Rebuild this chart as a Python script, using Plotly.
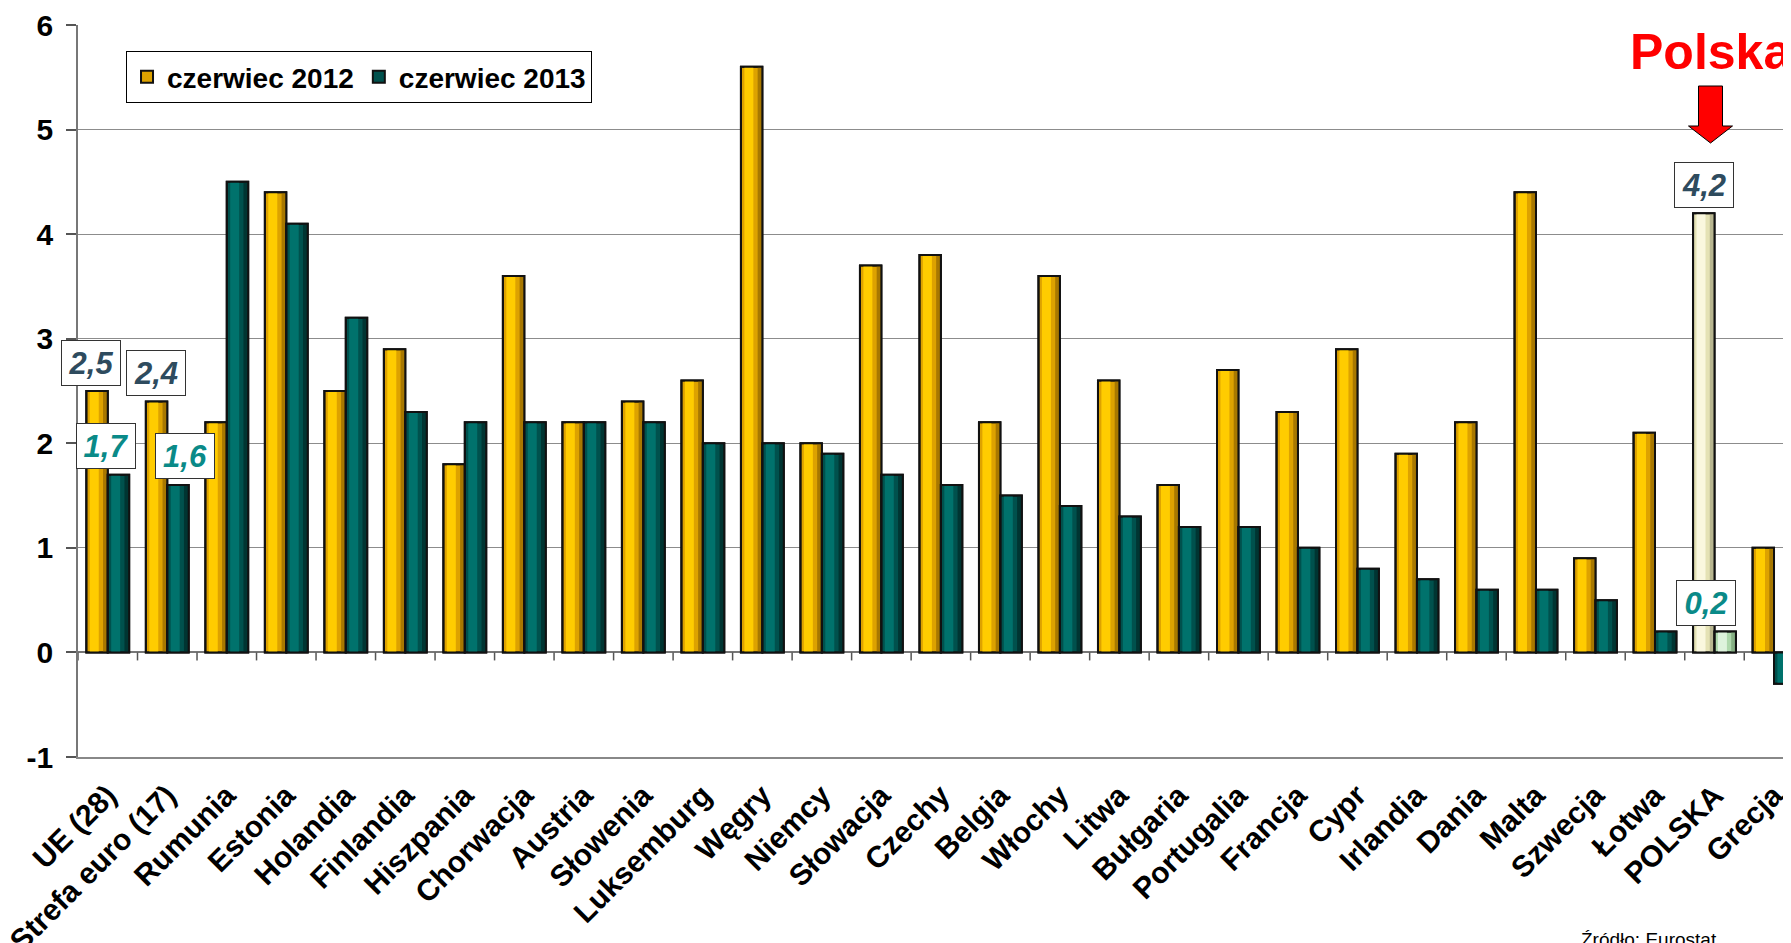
import plotly.graph_objects as go

categories = ["UE (28)", "Strefa euro (17)", "Rumunia", "Estonia", "Holandia", "Finlandia",
              "Hiszpania", "Chorwacja", "Austria", "Słowenia", "Luksemburg", "Węgry", "Niemcy",
              "Słowacja", "Czechy", "Belgia", "Włochy", "Litwa", "Bułgaria", "Portugalia",
              "Francja", "Cypr", "Irlandia", "Dania", "Malta", "Szwecja", "Łotwa", "POLSKA", "Grecja"]
june_2012 = [2.5, 2.4, 2.2, 4.4, 2.5, 2.9, 1.8, 3.6, 2.2, 2.4, 2.6, 5.6, 2.0, 3.7, 3.8, 2.2,
             3.6, 2.6, 1.6, 2.7, 2.3, 2.9, 1.9, 2.2, 4.4, 0.9, 2.1, 4.2, 1.0]
june_2013 = [1.7, 1.6, 4.5, 4.1, 3.2, 2.3, 2.2, 2.2, 2.2, 2.2, 2.0, 2.0, 1.9, 1.7, 1.6, 1.5,
             1.4, 1.3, 1.2, 1.2, 1.0, 0.8, 0.7, 0.6, 0.6, 0.5, 0.2, 0.2, -0.3]
series_names = ["czerwiec 2012", "czerwiec 2013"]
y_ticks = [-1, 0, 1, 2, 3, 4, 5, 6]
highlight = "POLSKA"
labelled = ["UE (28)", "Strefa euro (17)", "POLSKA"]
source_text = "Źródło: Eurostat"
callout_text = "Polska"

FONT = "Liberation Sans, Arial, sans-serif"
LABEL_DARK = "#2E4B5E"
LABEL_TEAL = "#0A8A88"

# (base, bright stripe, dark stripe) shading for normal and highlighted bars
gold_shades = ("#DDA200", "#FFCC00", "#A87800")
teal_shades = ("#00514D", "#00726C", "#003532")
gold_hl_shades = ("#E4E2B4", "#FAF8DE", "#B8B690")
teal_hl_shades = ("#AED8AC", "#DDF3DC", "#86B084")

BW = 0.36  # bar width in category units
x_idx = list(range(len(categories)))


def shade_list(k, normal, hl):
    return [hl[k] if c == highlight else normal[k] for c in categories]


fig = go.Figure()
series = [
    (june_2012, series_names[0], gold_shades, gold_hl_shades, -BW),
    (june_2013, series_names[1], teal_shades, teal_hl_shades, 0.0),
]
for vals, name, normal, hl, off in series:
    fig.add_trace(go.Bar(x=x_idx, y=vals, name=name, width=BW, offset=off,
                         marker=dict(color=shade_list(0, normal, hl),
                                     line=dict(color="#111111", width=2)),
                         legendgroup=name))
    fig.add_trace(go.Bar(x=x_idx, y=vals, width=BW * 0.42, offset=off + BW * 0.16,
                         marker=dict(color=shade_list(1, normal, hl), line=dict(width=0)),
                         showlegend=False, hoverinfo="skip", legendgroup=name))
    fig.add_trace(go.Bar(x=x_idx, y=vals, width=BW * 0.22, offset=off + BW * 0.78,
                         marker=dict(color=shade_list(2, normal, hl), line=dict(width=0)),
                         showlegend=False, hoverinfo="skip", legendgroup=name))
    fig.add_trace(go.Bar(x=x_idx, y=vals, width=BW, offset=off,
                         marker=dict(color="rgba(0,0,0,0)",
                                     line=dict(color="#111111", width=2)),
                         showlegend=False, hoverinfo="skip", legendgroup=name))

# tick marks on the zero line at category boundaries
shapes = []
for i in range(len(categories) + 1):
    shapes.append(dict(type="line", xref="x", yref="y", ysizemode="pixel", yanchor=0,
                       x0=i - 0.5, x1=i - 0.5, y0=0, y1=-8,
                       line=dict(color="#555555", width=1.5)))

pi = categories.index(highlight)
# red arrow pointing at Polska
shapes.append(dict(type="path", xref="x", yref="y", xsizemode="pixel", ysizemode="pixel",
                   xanchor=pi, yanchor=6,
                   path="M -16,-61 L 8,-61 L 8,-101 L 18,-101 L -4,-118 L -26,-101 L -16,-101 Z",
                   fillcolor="#FF0000", line=dict(color="#000000", width=1)))

annotations = []
dx12 = {"UE (28)": -17, "Strefa euro (17)": -11, "POLSKA": -11}
dx13 = {"UE (28)": -2, "Strefa euro (17)": 18, "POLSKA": -9}
for c in labelled:
    i = categories.index(c)
    for v, dx, col, ys in ((june_2012[i], dx12[c], LABEL_DARK, 5),
                           (june_2013[i], dx13[c], LABEL_TEAL, 6)):
        annotations.append(dict(x=i, y=v, xref="x", yref="y", xshift=dx, yshift=ys,
                                yanchor="bottom", showarrow=False,
                                text="<b><i>" + f"{v:.1f}".replace(".", ",") + "</i></b>",
                                font=dict(family=FONT, size=31, color=col),
                                bgcolor="white", bordercolor="#333333", borderwidth=1,
                                width=56, height=42, borderpad=1))

annotations.append(dict(x=pi, y=6, xref="x", yref="y", xshift=-4, yshift=-27,
                        showarrow=False, text="<b>" + callout_text + "</b>",
                        font=dict(family=FONT, size=50, color="#FF0000")))
annotations.append(dict(x=1, y=-0.232, xref="paper", yref="paper", xshift=-80,
                        xanchor="right", yanchor="top", showarrow=False, text=source_text,
                        font=dict(family=FONT, size=19, color="#000000")))

fig.update_layout(
    width=1791, height=943,
    margin=dict(l=70, r=0, t=17, b=194, autoexpand=False),
    paper_bgcolor="white", plot_bgcolor="white",
    barmode="overlay",
    font=dict(family=FONT, color="#000000"),
    showlegend=True,
    legend=dict(orientation="h", x=0.0279, y=0.9645, xanchor="left", yanchor="top",
                bgcolor="white", bordercolor="#000000", borderwidth=1,
                font=dict(family=FONT, size=28, color="#000000", weight="bold"),
                itemwidth=30, tracegroupgap=0, traceorder="normal"),
    xaxis=dict(range=[-0.5, 28.42], tickmode="array", tickvals=x_idx,
               ticktext=["<b>" + c + "</b>" for c in categories], tickangle=-45,
               tickfont=dict(family=FONT, size=30, color="#000000"),
               ticks="", ticklabelstandoff=7, ticklabeloverflow="allow",
               showgrid=False, automargin=False,
               showline=True, linecolor="#888888", linewidth=1.5, zeroline=False),
    yaxis=dict(range=[-1, 6], tickmode="array", tickvals=y_ticks,
               ticktext=["<b>" + str(t) + "</b>" for t in y_ticks],
               tickfont=dict(family=FONT, size=30, color="#000000"),
               ticks="outside", ticklen=10, tickcolor="#555555", tickwidth=1.5,
               ticklabelstandoff=7,
               showline=True, linecolor="#777777", linewidth=1.5, automargin=False,
               showgrid=True, gridcolor="#8C8C8C", gridwidth=1,
               zeroline=True, zerolinecolor="#777777", zerolinewidth=1.5),
    shapes=shapes,
    annotations=annotations,
)

fig.write_html("out.html")
